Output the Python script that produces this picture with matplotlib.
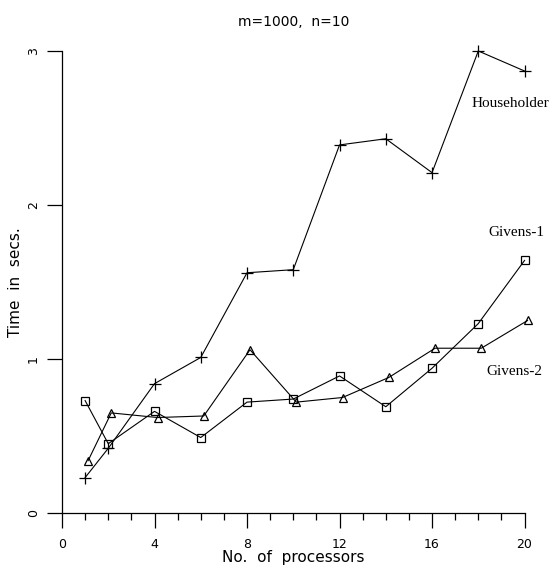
import numpy as np
import matplotlib
matplotlib.use('Agg')
from matplotlib import pyplot as plt
from matplotlib import transforms

# processors
procs = [1, 2, 4, 6, 8, 10, 12, 14, 16, 18, 20]

# timings (secs.)
householder = [0.23, 0.42, 0.84, 1.01, 1.56, 1.58, 2.39, 2.43, 2.21, 3.00, 2.87]
givens1     = [0.73, 0.45, 0.66, 0.49, 0.72, 0.74, 0.89, 0.69, 0.94, 1.23, 1.64]
givens2     = [0.34, 0.65, 0.62, 0.63, 1.06, 0.72, 0.75, 0.88, 1.07, 1.07, 1.25]

x_ticks = [0, 4, 8, 12, 16, 20]
y_ticks = [0, 1, 2, 3]

fig = plt.figure(figsize=(5.6, 5.69), dpi=100)
ax = fig.add_axes([0.1107, 0.0984, 0.826, 0.812])

ax.plot(procs, householder, color='black', lw=0.8, marker='+', ms=8, mew=0.9, clip_on=False)
ax.plot(procs, givens1, color='black', lw=0.8, marker='s', ms=6, mfc='none', mew=0.9, clip_on=False)
# triangles sit a few pixels right of their x position in the original
shift = transforms.ScaledTranslation(3 / 100, 0, fig.dpi_scale_trans)
ax.plot(procs, givens2, color='black', lw=0.8, marker='^', ms=6, mfc='none', mew=0.9,
        transform=ax.transData + shift, clip_on=False)

serif = 'Liberation Serif'
ax.text(17.7, 2.66, 'Householder', family=serif, fontsize=11, ha='left', va='center')
ax.text(18.45, 1.82, 'Givens-1', family=serif, fontsize=11, ha='left', va='center')
ax.text(18.35, 0.92, 'Givens-2', family=serif, fontsize=11, ha='left', va='center')

ax.set_xlim(0, 20)
ax.set_ylim(0, 3)
ax.set_xticks(x_ticks)
ax.set_xticks(range(0, 21), minor=True)
ax.set_yticks(y_ticks)
ax.tick_params(axis='x', which='major', direction='out', length=11, width=0.9, labelsize=9, pad=7)
ax.tick_params(axis='x', which='minor', direction='out', length=5, width=0.9)
ax.tick_params(axis='y', which='major', direction='out', length=11, width=0.9, labelsize=9, pad=5)
for lbl in ax.get_yticklabels():
    lbl.set_rotation(90)
    lbl.set_va('center')

for s in ['top', 'right']:
    ax.spines[s].set_visible(False)
ax.spines['left'].set_linewidth(0.9)
ax.spines['bottom'].set_linewidth(0.9)

ax.set_xlabel('No.  of  processors', fontsize=11, labelpad=-1)
ax.set_ylabel('Time  in  secs.', fontsize=11, labelpad=2)
ax.yaxis.set_label_coords(-0.085, 0.5)
ax.set_title('m=1000,  n=10', fontsize=10, pad=18)

plt.savefig('out.png', dpi=100)
